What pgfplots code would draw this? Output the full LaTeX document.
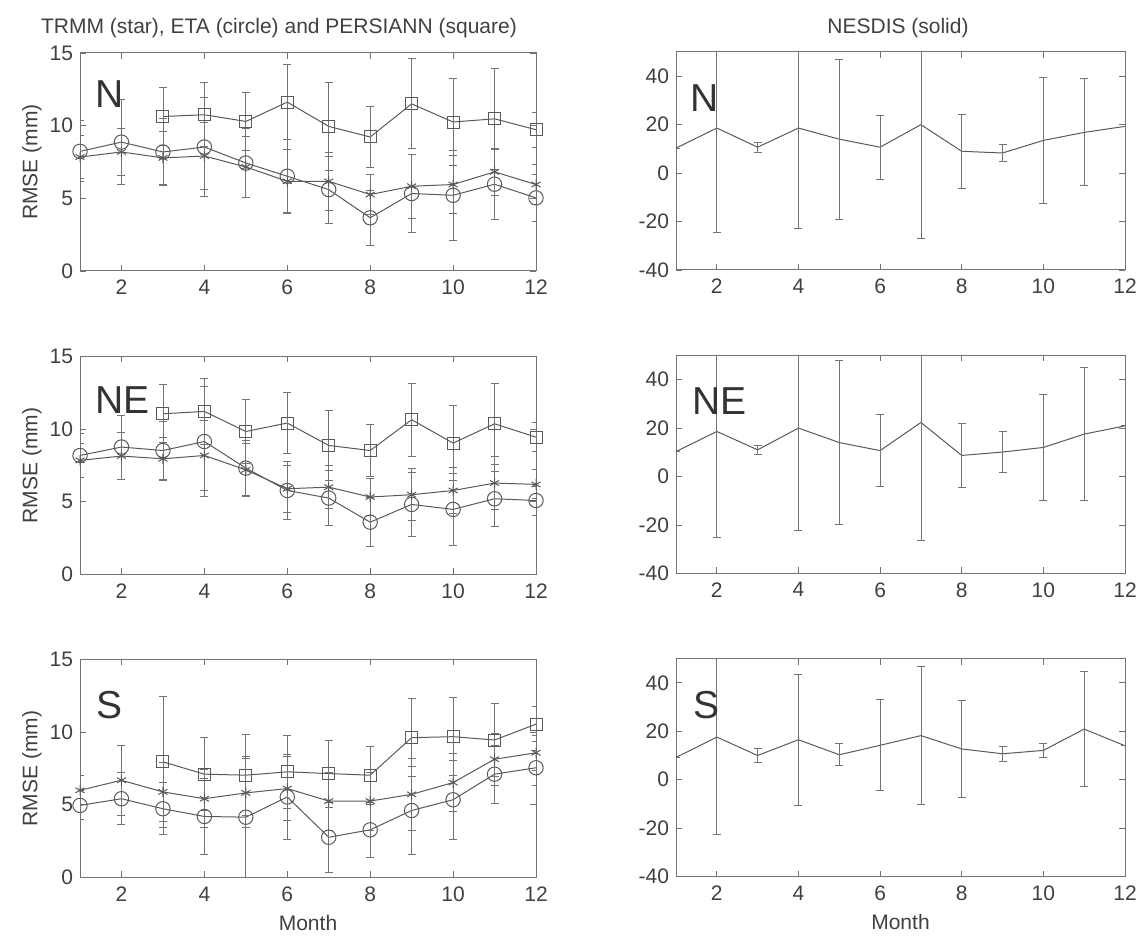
\documentclass[border=0pt]{standalone}
\usepackage{fontspec}
\setmainfont{Liberation Sans}
\usepackage{pgfplots}
\pgfplotsset{compat=1.18}
\usetikzlibrary{plotmarks}

\definecolor{lineg}{gray}{0.35}
\definecolor{barg}{gray}{0.45}
\definecolor{axg}{gray}{0.45}
\definecolor{txtg}{gray}{0.25}

\tikzset{tag/.style={anchor=west, font=\fontsize{19.5}{20}\selectfont, text=black!80, inner sep=0pt}}

\pgfplotsset{
  base/.style={
    scale only axis, xmin=1, xmax=12, xtick={2,4,...,12},
    tick align=inside, major tick length=3pt,
    axis line style={axg, line width=0.5pt}, tick style={axg, line width=0.4pt},
    ticklabel style={font=\fontsize{10.5}{12}\selectfont, text=txtg},
    label style={font=\fontsize{10.5}{12}\selectfont, text=txtg},
    /pgf/number format/assume math mode=true,
    xticklabel style={yshift=-1pt},
    ylabel style={yshift=-3pt},
  },
  lcol/.style={base, width=228pt, height=109pt, ymin=0, ymax=15, ytick={0,5,10,15}, ylabel={RMSE (mm)}},
  rcol/.style={base, width=224.5pt, height=109pt, ymin=-40, ymax=50, ytick={-40,-20,...,40}},
  ser/.style={lineg, line width=0.5pt,
    error bars/y dir=both, error bars/y explicit,
    error bars/error mark=|,
    error bars/error bar style={barg, line width=0.4pt},
    error bars/error mark options={barg, mark size=2pt, line width=0.45pt}},
  trmm/.style={ser, mark=asterisk, mark size=2.6pt, mark options={solid, lineg}},
  eta/.style={ser, mark=o, mark size=3.6pt, mark options={solid, lineg}},
  pers/.style={ser, mark=square, mark size=3pt, mark options={solid, lineg}},
  nes/.style={ser, mark=none},
}

\begin{document}
\begin{tikzpicture}
\path[use as bounding box] (0,0) rectangle (572.5pt,468pt);

\node[font=\fontsize{10.5}{12}\selectfont, text=txtg] at (139.5pt,454pt) {TRMM (star), ETA (circle) and PERSIANN (square)};
\node[font=\fontsize{10.5}{12}\selectfont, text=txtg] at (449pt,454pt) {NESDIS (solid)};

% ---------- left column, N ----------
\begin{axis}[lcol, at={(40pt,332.5pt)}, anchor=south west]
\addplot[trmm] coordinates {
  (1,7.84) +- (0,1.5) (2,8.19) +- (0,1.6) (3,7.78) +- (0,1.8) (4,7.91) +- (0,2.3)
  (5,7.16) +- (0,2.1) (6,6.17) +- (0,2.2) (7,6.17) +- (0,2.0) (8,5.26) +- (0,1.4)
  (9,5.83) +- (0,2.2) (10,5.95) +- (0,2.0) (11,6.82) +- (0,1.6) (12,5.95) +- (0,1.4)};
\addplot[eta] coordinates {
  (1,8.23) +- (0,2.1) (2,8.87) +- (0,2.9) (3,8.19) +- (0,2.3) (4,8.53) +- (0,3.4)
  (5,7.43) +- (0,2.4) (6,6.52) +- (0,2.5) (7,5.60) +- (0,2.3) (8,3.66) +- (0,1.9)
  (9,5.33) +- (0,2.7) (10,5.21) +- (0,3.1) (11,5.97) +- (0,2.4) (12,5.03) +- (0,1.6)};
\addplot[pers] coordinates {
  (3,10.63) +- (0,2.0) (4,10.75) +- (0,2.2) (5,10.29) +- (0,2.0) (6,11.62) +- (0,2.6)
  (7,9.95) +- (0,3.0) (8,9.22) +- (0,2.1) (9,11.50) +- (0,3.1) (10,10.25) +- (0,3.0)
  (11,10.47) +- (0,3.5) (12,9.72) +- (0,1.2)};
\node[tag] at (rel axis cs:0.033,0.81) {N};
\end{axis}

% ---------- left column, NE ----------
\begin{axis}[lcol, at={(40pt,180.75pt)}, anchor=south west]
\addplot[trmm] coordinates {
  (1,7.85) +- (0,1.2) (2,8.15) +- (0,1.6) (3,7.96) +- (0,1.5) (4,8.19) +- (0,2.4)
  (5,7.20) +- (0,1.8) (6,5.90) +- (0,1.6) (7,6.01) +- (0,1.5) (8,5.33) +- (0,1.3)
  (9,5.49) +- (0,1.8) (10,5.78) +- (0,1.6) (11,6.29) +- (0,1.8) (12,6.20) +- (0,1.0)};
\addplot[eta] coordinates {
  (1,8.19) +- (0,1.5) (2,8.77) +- (0,2.2) (3,8.53) +- (0,2.0) (4,9.15) +- (0,3.8)
  (5,7.32) +- (0,1.9) (6,5.78) +- (0,2.0) (7,5.26) +- (0,1.9) (8,3.60) +- (0,1.7)
  (9,4.82) +- (0,2.2) (10,4.48) +- (0,2.5) (11,5.21) +- (0,1.9) (12,5.09) +- (0,1.0)};
\addplot[pers] coordinates {
  (3,11.06) +- (0,2.0) (4,11.22) +- (0,2.3) (5,9.84) +- (0,2.2) (6,10.42) +- (0,2.1)
  (7,8.88) +- (0,2.4) (8,8.53) +- (0,1.8) (9,10.65) +- (0,2.5) (10,9.04) +- (0,2.6)
  (11,10.37) +- (0,2.8) (12,9.45) +- (0,1.0)};
\node[tag] at (rel axis cs:0.033,0.80) {NE};
\end{axis}

% ---------- left column, S ----------
\begin{axis}[lcol, at={(40pt,29.25pt)}, anchor=south west, xlabel={Month}]
\addplot[trmm] coordinates {
  (1,6.00) +- (0,1.0) (2,6.69) +- (0,2.4) (3,5.89) +- (0,2.0) (4,5.42) +- (0,2.0)
  (5,5.82) +- (0,2.4) (6,6.12) +- (0,2.2) (7,5.26) +- (0,2.0) (8,5.26) +- (0,2.0)
  (9,5.72) +- (0,2.5) (10,6.53) +- (0,2.0) (11,8.14) +- (0,1.8) (12,8.58) +- (0,1.2)};
\addplot[eta] coordinates {
  (1,4.96) +- (0,1.0) (2,5.42) +- (0,1.8) (3,4.73) +- (0,1.8) (4,4.20) +- (0,2.6)
  (5,4.15) +- (0,4.15) (6,5.54) +- (0,2.9) (7,2.77) +- (0,2.4) (8,3.28) +- (0,1.9)
  (9,4.61) +- (0,3.0) (10,5.35) +- (0,2.7) (11,7.11) +- (0,2.0) (12,7.55) +- (0,1.2)};
\addplot[pers] coordinates {
  (3,7.96) +- (0,4.5) (4,7.11) +- (0,2.5) (5,7.04) +- (0,2.8) (6,7.27) +- (0,2.5)
  (7,7.15) +- (0,2.3) (8,7.04) +- (0,2.0) (9,9.62) +- (0,2.7) (10,9.69) +- (0,2.7)
  (11,9.46) +- (0,2.5) (12,10.55) +- (0,1.2)};
\node[tag] at (rel axis cs:0.036,0.79) {S};
\end{axis}

% ---------- right column, N ----------
\begin{axis}[rcol, at={(338pt,333pt)}, anchor=south west]
\addplot[nes] coordinates {
  (1,10.3) +- (0,0) (2,18.6) +- (0,43.2) (3,10.7) +- (0,2.1) (4,18.6) +- (0,41.6)
  (5,14.0) +- (0,33.0) (6,10.7) +- (0,13.2) (7,20.0) +- (0,46.9) (8,9.0) +- (0,15.3)
  (9,8.3) +- (0,3.5) (10,13.5) +- (0,26.1) (11,16.8) +- (0,22.1) (12,19.3) +- (0,0)};
\node[tag] at (rel axis cs:0.031,0.79) {N};
\end{axis}

% ---------- right column, NE ----------
\begin{axis}[rcol, at={(338pt,181.3pt)}, anchor=south west]
\addplot[nes] coordinates {
  (1,10.3) +- (0,0) (2,18.6) +- (0,43.6) (3,11.0) +- (0,2.0) (4,20.0) +- (0,42.3)
  (5,14.0) +- (0,33.9) (6,10.7) +- (0,14.8) (7,22.3) +- (0,48.5) (8,8.7) +- (0,13.3)
  (9,10.1) +- (0,8.4) (10,12.0) +- (0,21.8) (11,17.5) +- (0,27.4) (12,20.9) +- (0,0)};
\node[tag] at (rel axis cs:0.035,0.79) {NE};
\end{axis}

% ---------- right column, S ----------
\begin{axis}[rcol, at={(338pt,29.7pt)}, anchor=south west, xlabel={Month}]
\addplot[nes] coordinates {
  (1,9.2) +- (0,0) (2,17.6) +- (0,40.0) (3,10.0) +- (0,2.9) (4,16.5) +- (0,27.0)
  (5,10.3) +- (0,4.6) (6,14.2) +- (0,18.8) (7,18.2) +- (0,28.4) (8,12.7) +- (0,20.0)
  (9,10.7) +- (0,3.1) (10,12.1) +- (0,2.8) (11,20.9) +- (0,23.6) (12,14.0) +- (0,0)};
\node[tag] at (rel axis cs:0.038,0.786) {S};
\end{axis}
\end{tikzpicture}
\end{document}
